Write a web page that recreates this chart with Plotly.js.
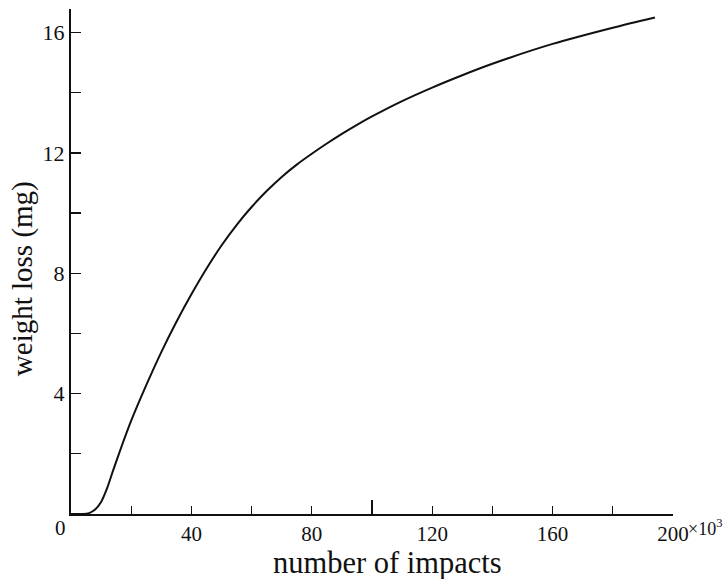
<!DOCTYPE html>
<html>
<head>
<meta charset="utf-8">
<script src="https://cdn.plot.ly/plotly-3.0.1.min.js"></script>
<style>html,body{margin:0;padding:0;background:#fff;}#chart{width:725px;height:579px;}</style>
</head>
<body>
<div id="chart"></div>
<script>
// number of impacts (×10^3)
const impacts = [0, 4, 6, 8, 10, 12, 14, 17, 20, 25, 30, 35, 40, 45, 50, 55, 60, 65, 70, 75, 80, 85, 90, 95, 100, 110, 120, 130, 140, 160, 180, 194];
// weight loss (mg)
const weightLoss = [0, 0.0, 0.03, 0.15, 0.4, 0.86, 1.45, 2.3, 3.1, 4.28, 5.38, 6.38, 7.3, 8.15, 8.92, 9.6, 10.2, 10.73, 11.2, 11.61, 11.97, 12.31, 12.63, 12.93, 13.21, 13.72, 14.17, 14.58, 14.96, 15.62, 16.16, 16.5];

const xTickVals = [20, 40, 60, 80, 100, 120, 140, 160, 180, 200];
const xTickText = ["", "40", "", "80", "", "120", "", "160", "", "200"];
const xLongTicks = [100, 200];
const yTickVals = [2, 4, 6, 8, 10, 12, 14, 16];
const yTickText = ["", "4", "", "8", "", "12", "", "16"];

const FONT = "Liberation Serif, Times New Roman, serif";
const INK = "#111";

const traces = [
  {x: impacts, y: weightLoss, type: "scatter", mode: "lines",
   line: {color: INK, width: 2, shape: "spline", smoothing: 0.8},
   hoverinfo: "skip", showlegend: false},
  {x: [], y: [], xaxis: "x2", yaxis: "y", type: "scatter", mode: "lines", showlegend: false}
];

const layout = {
  width: 725, height: 579,
  margin: {l: 71, r: 52, t: 9, b: 65},
  paper_bgcolor: "#fff", plot_bgcolor: "#fff",
  font: {family: FONT, color: INK},
  showlegend: false,
  xaxis: {
    range: [0, 200], showgrid: false, zeroline: false,
    showline: true, linecolor: INK, linewidth: 1.5,
    tickmode: "array", tickvals: xTickVals, ticktext: xTickText,
    ticks: "inside", ticklen: 8, tickwidth: 1.3, tickcolor: INK,
    tickfont: {family: FONT, size: 21, color: INK}
  },
  xaxis2: {
    range: [0, 200], overlaying: "x", anchor: "y", side: "bottom",
    showgrid: false, zeroline: false, showline: false,
    tickmode: "array", tickvals: xLongTicks, showticklabels: false,
    ticks: "inside", ticklen: 14, tickwidth: 1.3, tickcolor: INK
  },
  yaxis: {
    range: [0, 16.78], showgrid: false, zeroline: false,
    showline: true, linecolor: INK, linewidth: 2,
    tickmode: "array", tickvals: yTickVals, ticktext: yTickText,
    ticks: "inside", ticklen: 10, tickwidth: 1.3, tickcolor: INK,
    tickfont: {family: FONT, size: 22, color: INK}
  },
  annotations: [
    {text: "number of impacts", xref: "paper", yref: "paper", x: 0.525, y: -0.097,
     xanchor: "center", yanchor: "middle", showarrow: false,
     font: {family: FONT, size: 30.5, color: INK}},
    {text: "weight loss (mg)", xref: "paper", yref: "paper", x: -0.0814, y: 0.467,
     xanchor: "center", yanchor: "middle", textangle: -90, showarrow: false,
     font: {family: FONT, size: 29, color: INK}},
    {text: "0", xref: "paper", yref: "paper", x: -0.018, y: -0.028,
     xanchor: "center", yanchor: "middle", showarrow: false,
     font: {family: FONT, size: 21, color: INK}},
    {text: "×10<sup>3</sup>", xref: "paper", yref: "paper", x: 1.0216, y: -0.026,
     xanchor: "left", yanchor: "middle", showarrow: false,
     font: {family: FONT, size: 18, color: INK}}
  ]
};

Plotly.newPlot("chart", traces, layout, {staticPlot: true, displayModeBar: false});
</script>
</body>
</html>
